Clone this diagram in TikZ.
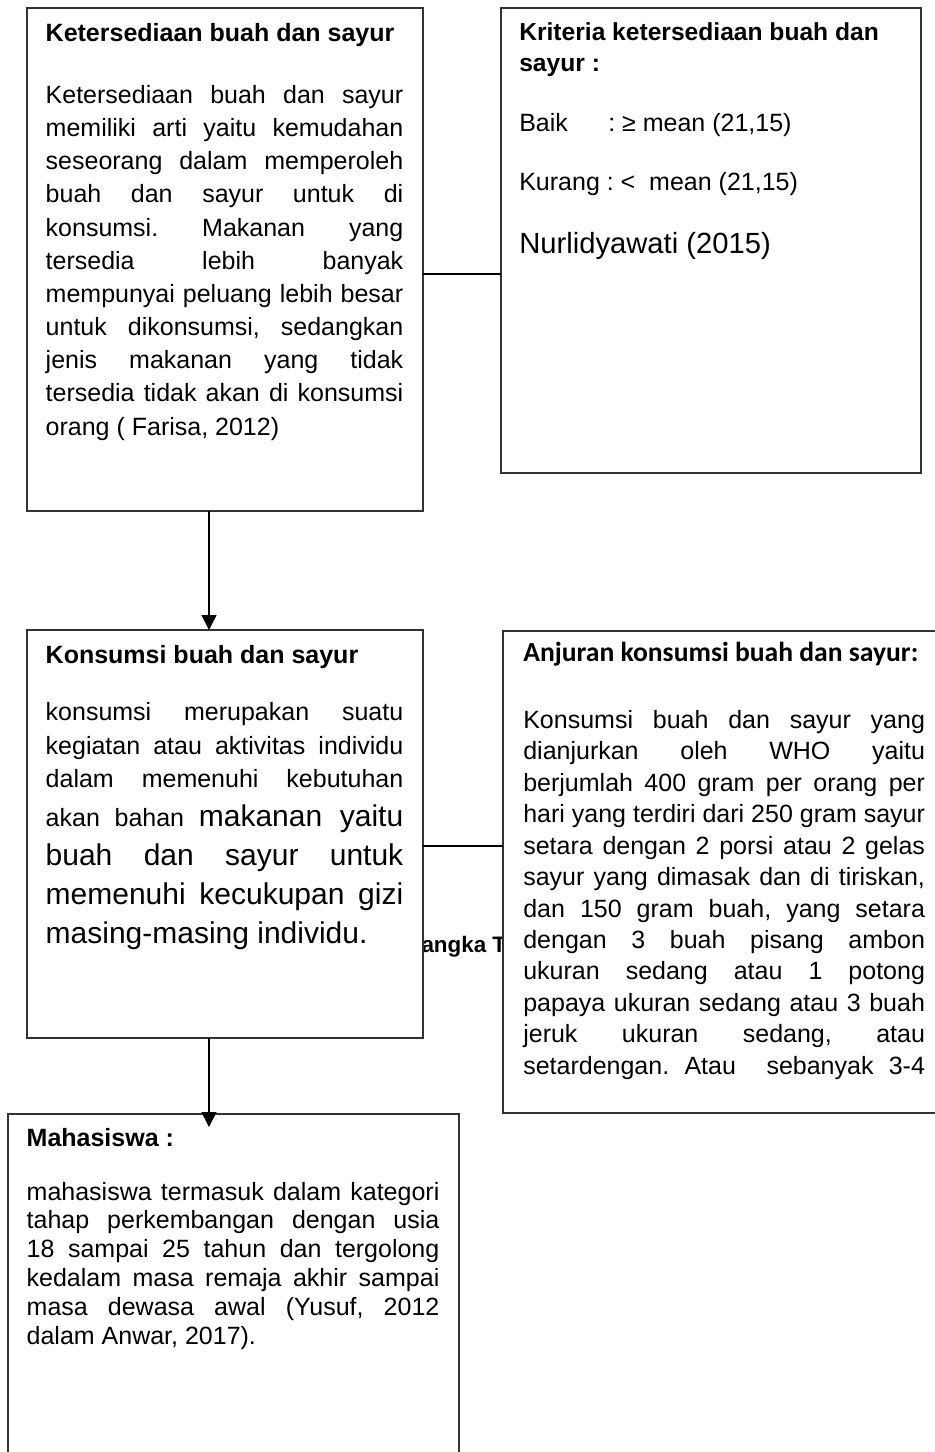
\documentclass[tikz,border=0pt]{standalone}
\usepackage{fontspec}
\setmainfont{Liberation Sans}
\newfontfamily\calib{Carlito}
\usetikzlibrary{arrows.meta}
\frenchspacing
\newcommand\J[1]{\hbox to\hsize{#1}}
\newcommand\Lf[1]{\hbox to\hsize{#1\hfil}}
\newcommand\Para[2]{\vtop{\hsize=#1\relax #2}}
\newcommand\Lg{\fontsize{15}{19.5}\selectfont}
\begin{document}
\begin{tikzpicture}[x=0.5pt,y=-0.5pt,
  box/.style={draw=black!80, line width=0.65pt, fill=white, anchor=north west, inner sep=0pt, outer sep=0pt},
  txt/.style={anchor=base west, inner sep=0pt, outer sep=0pt},
  body/.style={txt, font=\fontsize{12.5}{16.575}\selectfont},
  ttl/.style={txt, font=\fontsize{12.5}{15}\selectfont\bfseries},
  conn/.style={line width=0.75pt, black},
  arr/.style={conn, -{Triangle[width=7.5pt,length=7.5pt]}}
]
\useasboundingbox (0,0) rectangle (935,1452);
\clip (0,0) rectangle (935,1452);

% partly hidden caption text
\node[txt, font=\fontsize{11.2}{13}\selectfont\bfseries] (gt) at (421.5,952.7) {angka T};

% boxes
\node[box, minimum width=198pt, minimum height=251.5pt] (B1) at (27,8) {};
\node[box, minimum width=210pt, minimum height=232.5pt] (B2) at (501,8) {};
\node[box, minimum width=198pt, minimum height=204pt] (B3) at (27,630) {};
\node[box, minimum width=223.5pt, minimum height=241pt] (B4) at (503,631) {};
\node[box, minimum width=225.5pt, minimum height=178pt] (B5) at (8,1114) {};

% box 1
\node[ttl] (t1) at (45.7,41.7) {Ketersediaan buah dan sayur};
\node[body] (p1) at (45.7,103.5) {\Para{178.8pt}{%
\J{Ketersediaan buah dan sayur}%
\J{memiliki arti yaitu kemudahan}%
\J{seseorang dalam memperoleh}%
\J{buah dan sayur untuk di}%
\J{konsumsi. Makanan yang}%
\J{tersedia lebih banyak}%
\J{mempunyai peluang lebih besar}%
\J{untuk dikonsumsi, sedangkan}%
\J{jenis makanan yang tidak}%
\J{tersedia tidak akan di konsumsi}%
\Lf{orang ( Farisa, 2012)}}};

% box 2
\node[ttl, font=\fontsize{12.3}{15.85}\selectfont\bfseries] (t2) at (519.3,40) {\Para{205pt}{%
\Lf{Kriteria ketersediaan buah dan}%
\Lf{sayur :}}};
\node[body] (k2a) at (519.3,131.7) {\makebox[44.5pt][l]{Baik}: ≥ mean (21,15)};
\node[body] (k2b) at (519.3,190) {Kurang : <\ \ mean (21,15)};
\node[txt, font=\fontsize{14.6}{17}\selectfont] (k2c) at (519.3,253.3) {Nurlidyawati (2015)};

% box 3
\node[ttl] (t3) at (45.7,663.3) {Konsumsi buah dan sayur};
\node[body, font=\fontsize{12.5}{16.65}\selectfont] (p3) at (45.7,720.7) {\Para{178.8pt}{%
\J{konsumsi merupakan suatu}%
\J{kegiatan atau aktivitas individu}%
\J{dalam memenuhi kebutuhan}%
\baselineskip=19.4pt
\J{akan bahan {\Lg makanan yaitu}}%
\Lg\baselineskip=19.5pt
\J{buah dan sayur untuk}%
\J{memenuhi kecukupan gizi}%
\Lf{masing-masing individu.}}};

% box 4
\node[txt, font=\fontsize{13.8}{16}\selectfont\calib\bfseries] (t4) at (523.3,661.7) {Anjuran konsumsi buah dan sayur:};
\node[body, font=\fontsize{12.5}{15.73}\selectfont] (p4) at (523.3,728.3) {\Para{200.85pt}{%
\J{Konsumsi buah dan sayur yang}%
\J{dianjurkan oleh WHO yaitu}%
\J{berjumlah 400 gram per orang per}%
\J{hari yang terdiri dari 250 gram sayur}%
\J{setara dengan 2 porsi atau 2 gelas}%
\J{sayur yang dimasak dan di tiriskan,}%
\J{dan 150 gram buah, yang setara}%
\J{dengan 3 buah pisang ambon}%
\J{ukuran sedang atau 1 potong}%
\J{papaya ukuran sedang atau 3 buah}%
\J{jeruk ukuran sedang, atau}%
\J{setardengan. Atau\ \ sebanyak 3-4}}};

% box 5
\node[ttl] (t5) at (26.7,1146.7) {Mahasiswa :};
\node[body, font=\fontsize{12.5}{14.4}\selectfont] (p5) at (26.7,1200) {\Para{206.35pt}{%
\J{mahasiswa termasuk dalam kategori}%
\J{tahap perkembangan dengan usia}%
\J{18 sampai 25 tahun dan tergolong}%
\J{kedalam masa remaja akhir sampai}%
\J{masa dewasa awal (Yusuf, 2012}%
\Lf{dalam Anwar, 2017).}}};

% connectors
\draw[conn] (B1.east |- 0,274) -- (B2.west |- 0,274);
\draw[conn] (B3.east |- 0,846) -- (B4.west |- 0,846);
\draw[arr] (B1.south -| 209,0) -- (B3.north -| 209,0);
\coordinate (tip5) at (209,1127);
\draw[arr] (B3.south -| 209,0) -- (tip5);
\end{tikzpicture}
\end{document}
